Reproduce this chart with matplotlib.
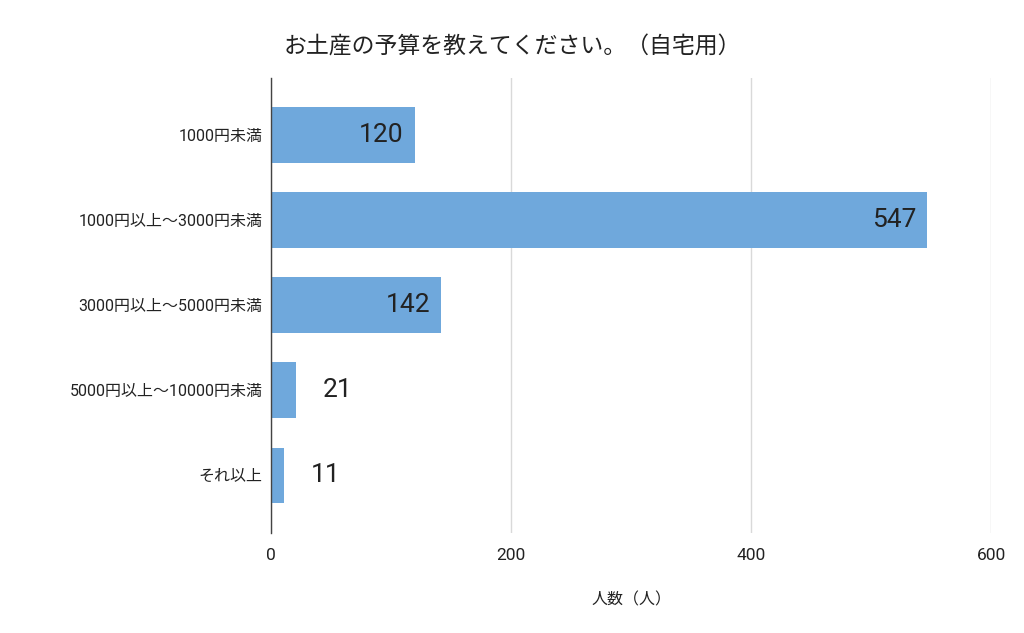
import matplotlib
matplotlib.use("Agg")
import matplotlib.pyplot as plt

plt.rcParams['font.family'] = ['Roboto', 'Noto Sans CJK JP', 'DejaVu Sans']

# data
categories = ["1000円未満", "1000円以上～3000円未満", "3000円以上～5000円未満",
              "5000円以上～10000円未満", "それ以上"]
counts = [120, 547, 142, 21, 11]

title = "お土産の予算を教えてください。（自宅用）"
xlabel = "人数（人）"
bar_color = "#6fa8dc"

fig = plt.figure(figsize=(10.24, 6.33), dpi=100)
ax = fig.add_axes([0.2646, 0.158, 0.7032, 0.7188])

ypos = list(range(len(categories)))
bars = ax.barh(ypos, counts, height=0.65, color=bar_color, zorder=2)

ax.set_xlim(0, 600)
ax.set_ylim(4.68, -0.67)
ax.set_xticks([0, 200, 400, 600])
ax.set_yticks(ypos)
ax.set_yticklabels(categories)
ax.tick_params(axis='both', length=0, colors="#222222")
ax.tick_params(axis='y', labelsize=11.5, pad=6)
ax.tick_params(axis='x', labelsize=12.5, pad=11)

ax.grid(axis='x', color="#d9d9d9", linewidth=1, zorder=0)
for s in ["top", "right", "bottom"]:
    ax.spines[s].set_visible(False)
ax.spines["left"].set_color("#444444")
ax.spines["left"].set_linewidth(1)
ax.spines["left"].set_zorder(3)

# value labels: inside for long bars, outside for short
for y, v in zip(ypos, counts):
    if v > 60:
        ax.annotate(str(v), (v, y), xytext=(-8, 0), textcoords="offset points",
                    ha="right", va="center", fontsize=19, color="#222222")
    else:
        ax.annotate(str(v), (v, y), xytext=(19, 0), textcoords="offset points",
                    ha="left", va="center", fontsize=19, color="#222222")

ax.set_xlabel(xlabel, fontsize=11.5, color="#222222", labelpad=21)
fig.text(0.5, 0.925, title, ha="center", va="center", fontsize=16.5, color="#222222")

fig.savefig("out.png", dpi=100)
